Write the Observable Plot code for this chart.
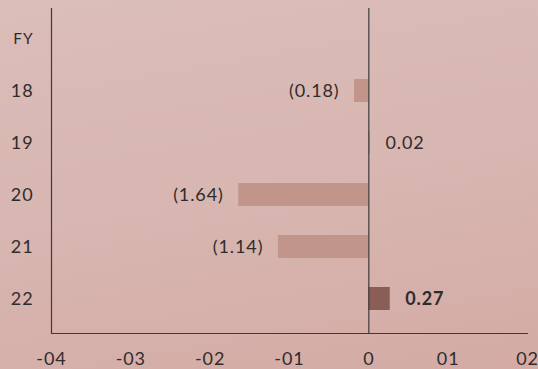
<!DOCTYPE html>
<html>
<head>
<meta charset="utf-8">
<script src="https://cdn.jsdelivr.net/npm/d3@7"></script>
<script src="https://cdn.jsdelivr.net/npm/@observablehq/plot@0.6"></script>
<style>
  html, body { margin: 0; padding: 0; }
  body {
    width: 538px; height: 369px; overflow: hidden;
    background: linear-gradient(170deg, #dbbdb9 0%, #d8b6b1 50%, #d4aba5 100%);
  }
  #chart svg { display: block; }
  #chart svg text { letter-spacing: 0.9px; }
</style>
</head>
<body>
<div id="chart"></div>
<script>
const categories = ["FY", "18", "19", "20", "21", "22"];
const years = ["18", "19", "20", "21", "22"];
const values = [-0.18, 0.02, -1.64, -1.14, 0.27];
const valueLabels = ["(0.18)", "0.02", "(1.64)", "(1.14)", "0.27"];
const highlighted = [false, false, false, false, true];
const xTicks = [-4, -3, -2, -1, 0, 1, 2];
const xTickLabels = ["-04", "-03", "-02", "-01", "0", "01", "02"];

const data = years.map((y, i) => ({year: y, value: values[i], label: valueLabels[i], hl: highlighted[i]}));

const FONT = "Lato, 'Open Sans', sans-serif";
const INK = "#2f2c2c";
const LINE = "#3d3a3a";

const chart = Plot.plot({
  width: 538,
  height: 369,
  marginTop: 8,
  marginBottom: 36,
  marginLeft: 51,
  marginRight: 11,
  style: {background: "transparent", fontFamily: FONT, color: INK, overflow: "visible"},
  x: {domain: [-4, 2], label: null},
  y: {domain: categories, paddingInner: 0.562, paddingOuter: 0.376, align: 0.456, label: null},
  marks: [
    Plot.barX(data, {y: "year", x1: 0, x2: "value", fill: d => d.hl ? "#8a5e57" : "#c1958a"}),
    Plot.ruleX([-4, 0], {stroke: LINE, strokeWidth: 1.2}),
    Plot.frame({anchor: "bottom", stroke: LINE, strokeWidth: 1.2}),
    Plot.axisX({ticks: xTicks, tickFormat: d => xTickLabels[xTicks.indexOf(d)], tickSize: 0, tickPadding: 19, fontSize: 18, fill: INK, label: null}),
    Plot.axisY({ticks: years, tickSize: 0, tickPadding: 18, fontSize: 18, fill: INK, label: null}),
    Plot.axisY({ticks: ["FY"], tickSize: 0, tickPadding: 18, fontSize: 15.5, fill: INK, label: null}),
    Plot.text(data.filter(d => d.value < 0), {x: "value", y: "year", text: "label", textAnchor: "end", dx: -15, fontSize: 18, fill: INK}),
    Plot.text(data.filter(d => d.value >= 0 && !d.hl), {x: "value", y: "year", text: "label", textAnchor: "start", dx: 15, fontSize: 18, fill: INK}),
    Plot.text(data.filter(d => d.hl), {x: "value", y: "year", text: "label", textAnchor: "start", dx: 15, fontSize: 18, fontWeight: "bold", fill: INK})
  ]
});
document.getElementById("chart").appendChild(chart);
</script>
</body>
</html>
